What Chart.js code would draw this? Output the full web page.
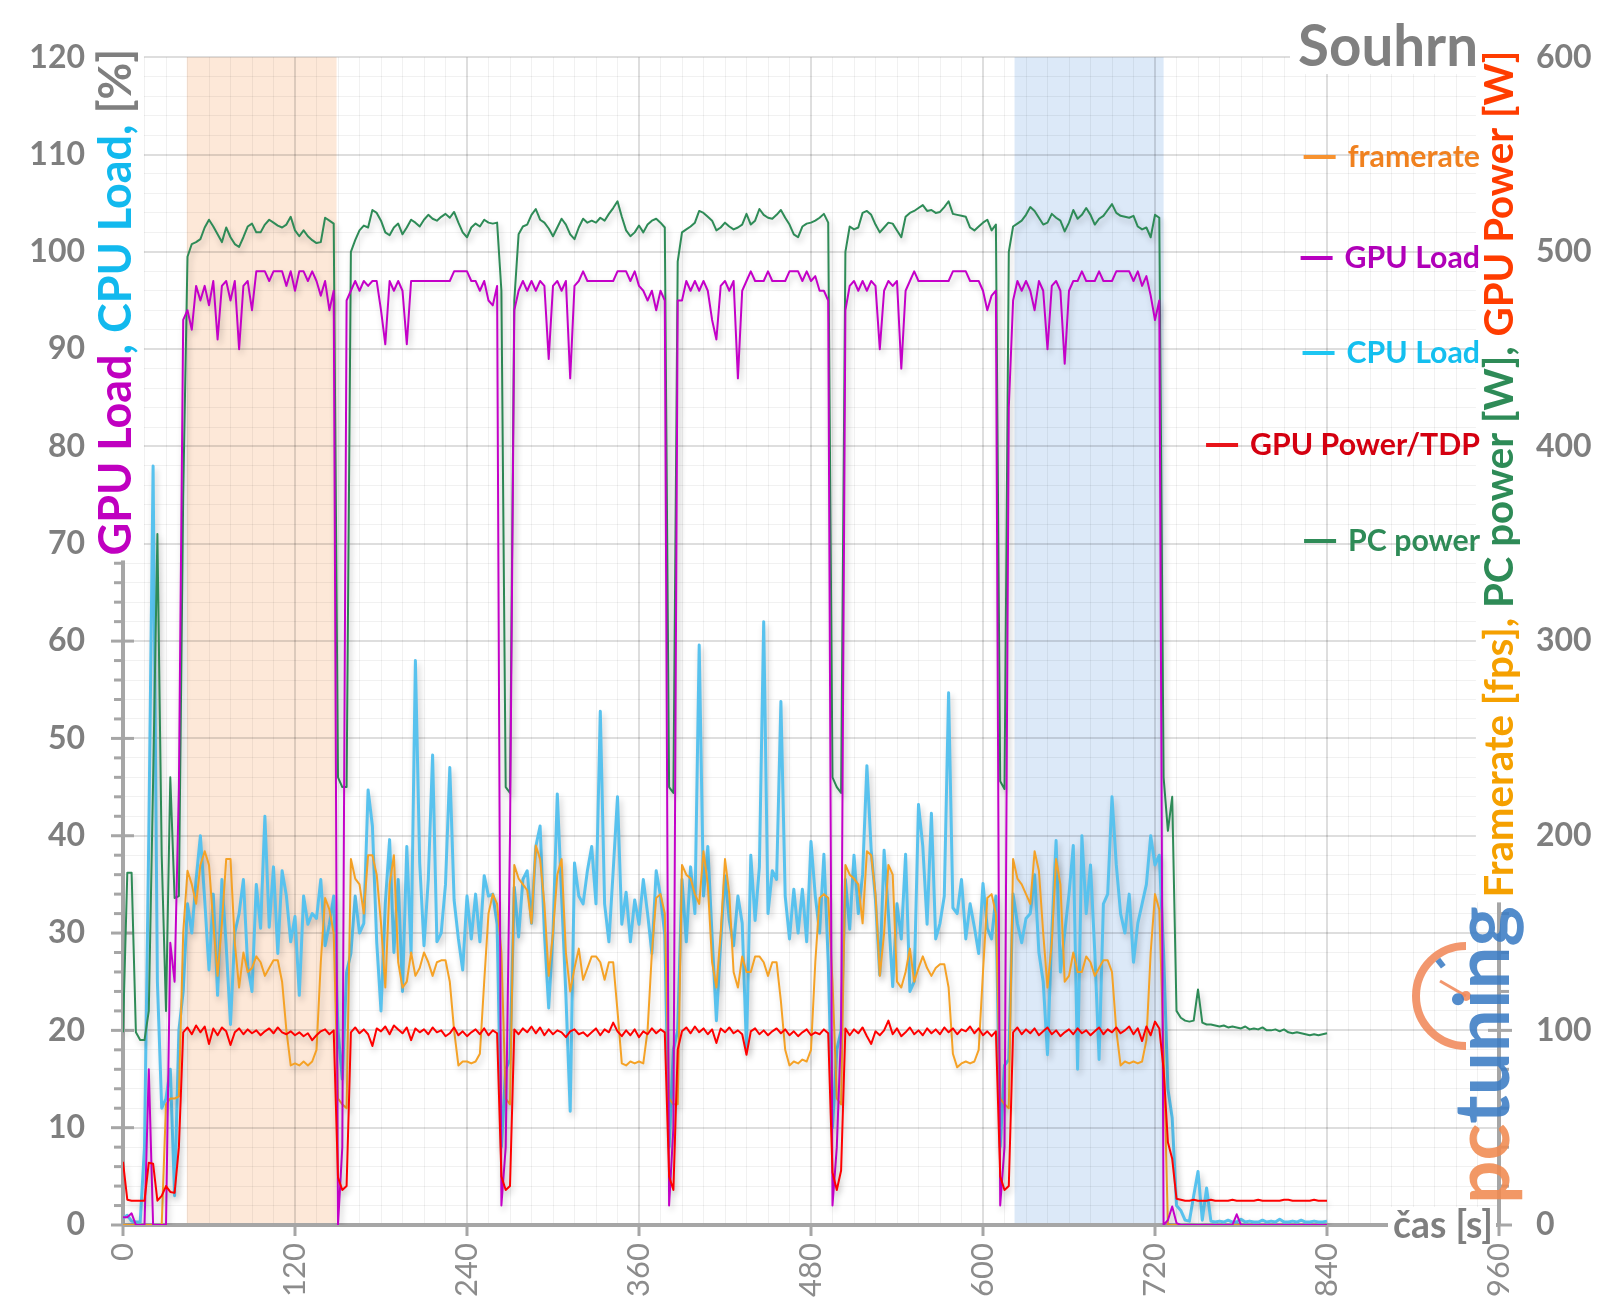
<!DOCTYPE html>
<html lang="cs">
<head>
  <meta charset="UTF-8"/>
  <title>Souhrn</title>
  <script src="https://cdn.jsdelivr.net/npm/chart.js"></script>
  <style>
    html, body { margin: 0; padding: 0; background: #fff; }
    #souhrn { display: block; }
  </style>
</head>
<body>
  <canvas id="souhrn" width="1600" height="1313"></canvas>
  <script>
    // one sample every 3 s, 0 .. 840 s
    const STEP_S = 3;

    // framerate [fps]
    const framerate = [
      0,0,0,0,0,0,0,0,0,0,62,65,65,66,150,
      182,175,165,185,192,185,155,128,155,188,188,145,122,140,130,132,138,135,128,132,136,136,125,100,82,83,82,84,82,84,90,135,168,162,150,
      65,62,60,
      188,178,175,160,190,190,180,155,122,175,190,135,122,125,140,128,132,140,135,128,135,136,136,125,100,82,84,84,83,84,88,125,160,170,165,
      140,65,62,
      185,178,175,172,155,195,188,165,128,150,180,188,140,120,132,142,126,132,138,138,135,126,135,135,110,83,82,84,83,84,83,100,140,168,170,160,
      65,62,62,
      185,180,178,170,165,192,175,135,122,150,188,170,130,122,138,130,130,138,138,135,128,135,135,115,90,82,84,83,85,84,90,135,168,170,168,
      125,65,62,
      185,180,178,175,155,192,190,170,128,150,185,180,125,122,130,142,125,132,138,132,128,132,134,134,122,88,81,83,84,83,84,90,130,168,170,160,
      65,62,60,
      188,178,175,170,165,192,182,150,122,145,188,175,125,128,140,130,130,138,135,128,132,136,136,130,100,82,84,83,84,83,84,95,140,170,162,
      90,0,0,0,0,0,0,0,0,0,0,0,0,0,0,0,0,0,0,0,0,0,0,0,0,0,0,0,0,0,0,0,0,0,0,0,0,0,0
    ];

    // GPU Load [%]
    const gpuLoad = [
      0.8,0.8,1.2,0,0,0,16,0,0,0,0,29,25,45,93,
      94,92,96.5,95,96.5,94.5,97,91,96.5,97,95,97,90,96.5,97,94,98,98,98,97,98,98,98,96.5,98,96,98,98,97,98,97,95.5,97,94,96,
      0,8,95,
      96,97,96,97,96.5,97,97,94,90.5,97,96,97,96,90.5,97,97,97,97,97,97,97,97,97,97,98,98,98,98,97,97,96,97,95,94.5,96.5,
      2,8,40,
      94,96,97,96,97,96,97,96.5,89,96.5,97,96,97,87,96.5,97,98,97,97,97,97,97,97,97,98,98,98,97,98,96.5,96,95,96,94,96,95,
      2,10,95,
      95,97,96,97,96,97,96,93,91,96.5,97,96,97,87,96,97,98,97,97,97,98,97,97,97,97,98,98,98,97,98,97,97.5,96,96,95,
      2,8,20,
      94,96.5,97,96,97,96,97,96.5,90,96,97,96.5,97,88,96,97,98,97,97,97,97,97,97,97,97,98,98,98,98,97,97,97,96,94,95.5,96,
      2,8,84,
      95,97,96,97,96,94,97,96,90,96.5,97,96,88.5,96,97,97,98,97,97,97,98,97,97,97,98,98,98,98,97,98,96.5,97.5,95.5,93,95,
      0,0.5,1.9,0.2,0,0,0,0,0,0,0,0,0,0,0,0,0,1.1,0,0,0,0,0,0,0,0,0,0,0,0,0,0,0,0,0,0,0,0,0
    ];

    // CPU Load [%]
    const cpuLoad = [
      0.7,1,0.4,0.3,0.3,8,40,78,25,12,13,16,3,20,24,
      33,30,35.5,40,33.4,26.2,34,23.6,35.5,28.7,20.6,30,32,35.5,26.6,24,35,30.5,42,30.6,36.8,27.9,36.4,33.8,29.1,31.7,23.6,33.8,30.9,32,31.5,35.5,28.7,30.9,33.8,
      20,15,26,
      27.9,33.8,30,31,44.7,41,29.1,22,33,39.6,28,35.5,24,38.9,27.9,58,37.2,28.7,35.5,48.3,29.1,30,35,47,33.4,29.4,26.2,33.8,29.4,34,29.1,35.9,33.8,34,30.9,
      8,16,17,
      34.7,29.6,35.5,36.4,31,38.9,41,30,22.3,30,44.3,33.8,23.6,11.7,37.2,33.8,33,36.4,38.9,33,52.8,33,29.1,36.4,44,30.9,34.2,29.1,33.4,30.9,35.5,32,27.9,36.4,33.8,29.8,
      8,18,20,
      35.5,29.1,36.8,32,59.6,33.8,38.9,29.6,21,29.1,35.9,31.3,28.7,33.8,31,18.1,38,31.3,36.8,62,32,36.4,35.5,53.8,33.8,29.4,34.5,30,34.5,29.1,39.4,33.8,30,38.1,27.1,
      10,18,20,
      35.5,30.4,38,32,36,47.2,38.5,33.4,25.7,38.5,32,24.5,33,29.4,38.1,24,25,43.2,38.9,30.9,42.3,29.4,31,33.8,54.7,32.6,32,35.5,29.4,33,30.6,27.9,35.1,30.5,29.4,33.8,
      8,16.4,17,
      34,31,29,31.5,32,36,28,25,17.5,30,39.5,26,30,34,39,16,40,32,37,28,17,33,34,44,37,32,30,34,27,31,33,35,40,37,38,
      28,14,11,2,1.5,0.5,0.4,3,5.5,0.5,3.8,0.4,
      0.3,0.4,0.3,0.5,0.3,0.3,0.6,0.3,0.4,0.3,0.3,0.5,0.3,0.4,0.3,0.6,0.3,0.3,0.4,0.3,0.5,0.3,0.3,0.4,0.3,0.3,0.4
    ];

    // GPU Power [W]
    const gpuPower = [
      32.5,13,12.5,12.5,12.5,12.5,32,31.5,12.5,15,20,17,16.5,40,99,
      101.5,98,102.5,99,102,93,101,97.5,101.5,99.5,92.5,99,101,98,100.5,98.5,100,97.5,99.5,101,98.5,101.5,99,98,99.5,97.5,99,97,98.5,95,97.5,99.5,100.5,98,100,
      24.5,18,20,
      99,101.5,98.5,100.5,98,92,101,99.5,102,98,102.5,100.5,98.5,101.5,95,101,99,100.5,98,101.5,99,100,97,98.5,101.5,97.5,99.5,97,99,100.5,98,101,97.5,100,98.5,
      25,18,20,
      100.5,98,101,99,102,98.5,101.5,97.5,100.5,98,100,99,96.5,99.5,100.5,98,99,97,99,101,97.5,100.5,99,104,99.5,97,100,97.5,100.5,96.5,99.5,98,101,98.5,100.5,99,
      25,18,90,
      99.5,101.5,98.5,102,99,101,98,100.5,93.5,101,99,101.5,98.5,100,98,87.5,99.5,101,98,100,97.5,99.5,101,98.5,100.5,97.5,99.5,97,99,100.5,97.5,99,98,100.5,98.5,
      27,18,28,
      101,97.5,100.5,98.5,101.5,97,93,99.5,97.5,100,105,98,101,97,99,101.5,98,100,97.5,101,98.5,100.5,98,101.5,99,101,98,100.5,99.5,102,98.5,101,97.5,99.5,97,99.5,
      25,18,20,
      99,101.5,98,100.5,98.5,101,97.5,99.5,101.5,98,100,97,99,100.5,98,101,98.5,100,97.5,99.5,101.5,98,100.5,99,101.5,98.5,100,102,98,101,94.5,102,97.5,104.5,101,
      80,42.5,34,13.5,
      13,12.5,12.5,13,12.5,12.5,12.5,13,12.5,12.5,12.5,12.5,13,12.5,12.5,12.5,12.5,12.5,13,12.5,12.5,12.5,12.5,12.5,13,13,12.5,12.5,12.5,12.5,12.5,13,12.5,12.5,12.5
    ];

    // PC power [W]
    const pcPower = [
      99,181,181,99,95,95,110,228,355,190,110,230,168,169,375,
      497.5,504,505,506.5,512.5,516.5,513,509,505,512.5,507.5,504,502.5,507.5,513,514.5,510,510,514,516.5,515,513.5,512.5,514,518,511,508,511,508,506,504.5,505,517.5,516,514.5,
      230,225,225,
      500,506,511,513.5,512.5,521.5,520,516,510,508.5,512.5,514.5,509,512.5,516.5,515,513,516.5,519,517,516,518,519.5,517.5,520.5,515,510,507.5,512.5,514.5,513,516.5,515,514.5,515,
      480,225,222,
      475,509,513,514,519,522,516.5,515,512,508,512.5,517,514,509,506.5,512.5,517,515,516,515,517.5,516,519.5,522.5,526,518,511,508,510,513.5,510,514,516,517,515,512.5,
      225,222,495,
      510,511.5,513,515,521,520,518,516,511,512.5,515,513,511.5,512.5,514,519.5,514,516,522,519,517.5,517,519,521.5,517.5,514,509,507.5,513,514.5,515,516,517.5,519.5,515,
      230,225,222,
      500,513,511.5,512.5,520,521,519,514,510,512.5,515,514.5,511,507.5,518,520,521,522.5,524,521,521.5,520,520.5,523,526,519.5,519,518.5,518,512.5,511,513,515,516.5,511,514,
      228,224,500,
      513,514.5,516,519,523,521,517.5,514,515,519.5,517.5,516,510.5,515,521.5,517,519,522.5,519,514,517,518.5,521.5,524.5,520,518.5,518,517.5,518.5,513,511.5,512.5,507.5,519,517.5,
      230,202.5,220,110,106.5,105,104.5,105,121,104,103,103,102.5,102,102.5,101.5,102,101.5,101,102,100.5,101,100.5,101.5,100,100,100.5,99.5,100.5,99,98.5,99,98.5,98,97.5,98,97.5,98,98.5
    ];

    const timeTicks = [0, 120, 240, 360, 480, 600, 720, 840, 960];
    const loadTicks = [0, 10, 20, 30, 40, 50, 60, 70, 80, 90, 100, 110, 120];
    const powerTicks = [0, 100, 200, 300, 400, 500, 600];
    // shaded test runs [s]
    const highlightRanges = [[44.5, 149], [622, 726]];

    const times = framerate.map((_, i) => i * STEP_S);
    const toPoints = arr => arr.map((v, i) => ({ x: times[i], y: v }));

    const FONT = 'Lato';
    const GRAY = '#7f7f7f';
    const AXIS = '#a6a6a6';

    function fitSize(ctx, text, width, weight) {
      ctx.font = weight + ' 100px ' + FONT;
      return 100 * width / ctx.measureText(text).width;
    }

    function line(ctx, x0, y0, x1, y1) {
      ctx.beginPath();
      ctx.moveTo(x0, y0);
      ctx.lineTo(x1, y1);
      ctx.stroke();
    }

    function rotatedTitle(ctx, cx, cy, parts, length) {
      const full = parts.map(p => p[0]).join('');
      const size = fitSize(ctx, full, length, 'bold');
      ctx.save();
      ctx.translate(cx, cy);
      ctx.rotate(-Math.PI / 2);
      ctx.font = 'bold ' + size + 'px ' + FONT;
      const total = ctx.measureText(full).width;
      ctx.fillStyle = '#fff';
      ctx.fillRect(-total / 2 - 5, -size * 0.6, total + 10, size * 1.2);
      ctx.textBaseline = 'middle';
      ctx.textAlign = 'left';
      let px = -total / 2;
      parts.forEach(([t, c]) => {
        ctx.fillStyle = c;
        ctx.fillText(t, px, 0);
        px += ctx.measureText(t).width;
      });
      ctx.restore();
    }

    const backdrop = {
      id: 'backdrop',
      beforeDraw(chart) {
        const { ctx, chartArea: a, scales: { x } } = chart;
        ctx.save();
        ctx.fillStyle = '#fff';
        ctx.fillRect(0, 0, chart.width, chart.height);
        const fills = ['#fde8d8', '#dce9f8'];
        highlightRanges.forEach(([from, to], i) => {
          const x0 = x.getPixelForValue(from);
          const x1 = x.getPixelForValue(to);
          ctx.fillStyle = fills[i];
          ctx.fillRect(x0, a.top, x1 - x0, a.bottom - a.top);
        });
        ctx.restore();
      }
    };

    const axesAndShadow = {
      id: 'axesAndShadow',
      beforeDatasetsDraw(chart) {
        const { ctx, chartArea: a, scales: { x, y, y2 } } = chart;
        ctx.save();
        ctx.strokeStyle = AXIS;
        ctx.lineCap = 'butt';
        ctx.lineWidth = 4;
        line(ctx, a.left, a.bottom, a.right, a.bottom);
        line(ctx, a.left, a.top - 2, a.left, a.bottom);
        line(ctx, a.right, a.top - 2, a.right, a.bottom);
        ctx.lineWidth = 3;
        y.ticks.forEach(t => {
          const py = y.getPixelForValue(t.value);
          if (loadTicks.includes(t.value)) line(ctx, a.left - 12, py, a.left + 11, py);
          else line(ctx, a.left - 9, py, a.left, py);
        });
        y2.ticks.forEach(t => {
          const py = y2.getPixelForValue(t.value);
          if (powerTicks.includes(t.value)) line(ctx, a.right - 11, py, a.right + 13, py);
          else line(ctx, a.right, py, a.right + 10, py);
        });
        timeTicks.forEach(v => {
          const px = x.getPixelForValue(v);
          line(ctx, px, a.bottom, px, a.bottom + 11);
        });
        ctx.restore();
        // soft drop shadow under the series lines
        ctx.save();
        ctx.shadowColor = 'rgba(0,0,0,0.22)';
        ctx.shadowBlur = 6;
        ctx.shadowOffsetX = 2;
        ctx.shadowOffsetY = 4;
      },
      afterDatasetsDraw(chart) {
        chart.ctx.restore();
      }
    };

    const decorations = {
      id: 'decorations',
      afterDraw(chart) {
        const { ctx } = chart;

        // axis titles
        rotatedTitle(ctx, 117, 302, [
          ['GPU Load', '#c000c0'],
          [', CPU Load,', '#12b9ee'],
          [' [%]', GRAY]
        ], 507);
        rotatedTitle(ctx, 1500, 474, [
          ['Framerate [fps], ', '#f5a000'],
          ['PC power [W], ', '#2e8b57'],
          ['GPU Power [W]', '#ff3c00']
        ], 847);

        // chart title
        const tSize = fitSize(ctx, 'Souhrn', 180, 'bold');
        ctx.save();
        ctx.fillStyle = '#fff';
        ctx.fillRect(1290, 16, 192, 58);
        ctx.font = 'bold ' + tSize + 'px ' + FONT;
        ctx.fillStyle = '#808080';
        ctx.textAlign = 'right';
        ctx.textBaseline = 'alphabetic';
        ctx.fillText('Souhrn', 1478, 66);
        ctx.restore();

        // x axis name
        const cSize = fitSize(ctx, 'čas [s]', 100, 'bold');
        ctx.save();
        ctx.fillStyle = '#fff';
        ctx.fillRect(1388, 1207, 108, 36);
        ctx.font = 'bold ' + cSize + 'px ' + FONT;
        ctx.fillStyle = GRAY;
        ctx.textAlign = 'left';
        ctx.textBaseline = 'middle';
        ctx.fillText('čas [s]', 1393, 1226);
        ctx.restore();

        // legend
        const lSize = fitSize(ctx, 'GPU Power/TDP', 230, 'bold');
        const rows = [
          ['framerate', 157, '#f7922f', '#f0811f'],
          ['GPU Load', 258, '#b800c0', '#b000b8'],
          ['CPU Load', 353, '#1dc6f2', '#14bfef'],
          ['GPU Power/TDP', 445, '#e8141a', '#d40010'],
          ['PC power', 541, '#2e8b57', '#2e8b57']
        ];
        ctx.save();
        ctx.font = 'bold ' + lSize + 'px ' + FONT;
        ctx.textAlign = 'right';
        ctx.textBaseline = 'middle';
        rows.forEach(([label, py, lineColor, textColor]) => {
          const w = ctx.measureText(label).width;
          ctx.fillStyle = textColor;
          ctx.fillText(label, 1480, py);
          ctx.strokeStyle = lineColor;
          ctx.lineWidth = 4;
          line(ctx, 1480 - w - 44, py, 1480 - w - 12, py);
        });
        ctx.restore();

        // pctuning logo
        ctx.save();
        ctx.globalAlpha = 0.88;
        const cx = 1466, cy = 996, r = 50;
        ctx.strokeStyle = '#f0895a';
        ctx.lineWidth = 8;
        ctx.beginPath();
        ctx.arc(cx, cy, r, Math.PI / 2, Math.PI * 1.5);
        ctx.stroke();
        ctx.strokeStyle = '#3b7cc4';
        ctx.lineWidth = 6;
        const ang = Math.PI * 1.29;
        line(ctx, cx + Math.cos(ang) * 37, cy + Math.sin(ang) * 37, cx + Math.cos(ang) * 46, cy + Math.sin(ang) * 46);
        ctx.strokeStyle = '#f0895a';
        ctx.lineWidth = 3;
        line(ctx, cx, cy, cx - 26, cy - 15);
        ctx.fillStyle = '#f0895a';
        ctx.beginPath();
        ctx.arc(cx, cy, 5, 0, Math.PI * 2);
        ctx.fill();
        const gSize = fitSize(ctx, 'pctuning', 298, 'bold');
        ctx.translate(1509, 1204);
        ctx.rotate(-Math.PI / 2);
        ctx.font = 'bold ' + gSize + 'px ' + FONT;
        ctx.textAlign = 'left';
        ctx.textBaseline = 'alphabetic';
        ctx.fillStyle = '#f08a50';
        ctx.fillText('pc', 0, 0);
        const pw = ctx.measureText('pc').width;
        ctx.fillStyle = '#3b7cc4';
        ctx.fillText('tuning', pw, 0);
        ctx.restore();
      }
    };

    const majorGrid = 'rgba(0,0,0,0.13)';
    const minorGrid = 'rgba(0,0,0,0.055)';

    new Chart(document.getElementById('souhrn').getContext('2d'), {
      type: 'line',
      data: {
        datasets: [
          { label: 'CPU Load', data: toPoints(cpuLoad), yAxisID: 'y', borderColor: '#58c2ee', borderWidth: 3, order: 5 },
          { label: 'framerate', data: toPoints(framerate), yAxisID: 'y2', borderColor: '#f5a226', borderWidth: 2, order: 4 },
          { label: 'PC power', data: toPoints(pcPower), yAxisID: 'y2', borderColor: '#2e8b57', borderWidth: 2, order: 3 },
          { label: 'GPU Load', data: toPoints(gpuLoad), yAxisID: 'y', borderColor: '#c400c8', borderWidth: 2, order: 2 },
          { label: 'GPU Power/TDP', data: toPoints(gpuPower), yAxisID: 'y2', borderColor: '#ff0000', borderWidth: 2, order: 1 }
        ]
      },
      options: {
        responsive: false,
        animation: false,
        devicePixelRatio: 1,
        layout: { padding: { top: 53 } },
        elements: {
          point: { radius: 0 },
          line: { tension: 0, borderJoinStyle: 'round', fill: false }
        },
        plugins: {
          legend: { display: false },
          tooltip: { enabled: false }
        },
        scales: {
          x: {
            type: 'linear', min: 0, max: 960,
            afterFit: s => { s.height = 88; },
            border: { display: false },
            grid: {
              drawTicks: false,
              color: c => (timeTicks.includes(c.tick.value) ? majorGrid : minorGrid),
              lineWidth: c => (timeTicks.includes(c.tick.value) ? 2 : 1)
            },
            ticks: {
              stepSize: 15, autoSkip: false, minRotation: 90, maxRotation: 90, padding: 18,
              color: '#8c8c8c', font: { family: FONT, size: 31 },
              callback: v => (timeTicks.includes(v) ? String(v) : '')
            }
          },
          y: {
            position: 'left', min: 0, max: 120,
            afterFit: s => { s.width = 123; },
            border: { display: false },
            grid: {
              drawTicks: false,
              color: c => (loadTicks.includes(c.tick.value) ? majorGrid : minorGrid),
              lineWidth: c => (loadTicks.includes(c.tick.value) ? 2 : 1)
            },
            ticks: {
              stepSize: 2, autoSkip: false, padding: 38,
              color: GRAY, font: { family: FONT, size: 32, weight: 'bold' },
              callback: v => (loadTicks.includes(v) ? String(v) : '')
            }
          },
          y2: {
            position: 'right', min: 0, max: 600,
            afterFit: s => { s.width = 101; },
            border: { display: false },
            grid: { drawOnChartArea: false, drawTicks: false },
            ticks: {
              stepSize: 20, autoSkip: false, padding: 37,
              color: GRAY, font: { family: FONT, size: 32, weight: 'bold' },
              callback: v => (powerTicks.includes(v) ? String(v) : '')
            }
          }
        }
      },
      plugins: [backdrop, axesAndShadow, decorations]
    });
  </script>
</body>
</html>
